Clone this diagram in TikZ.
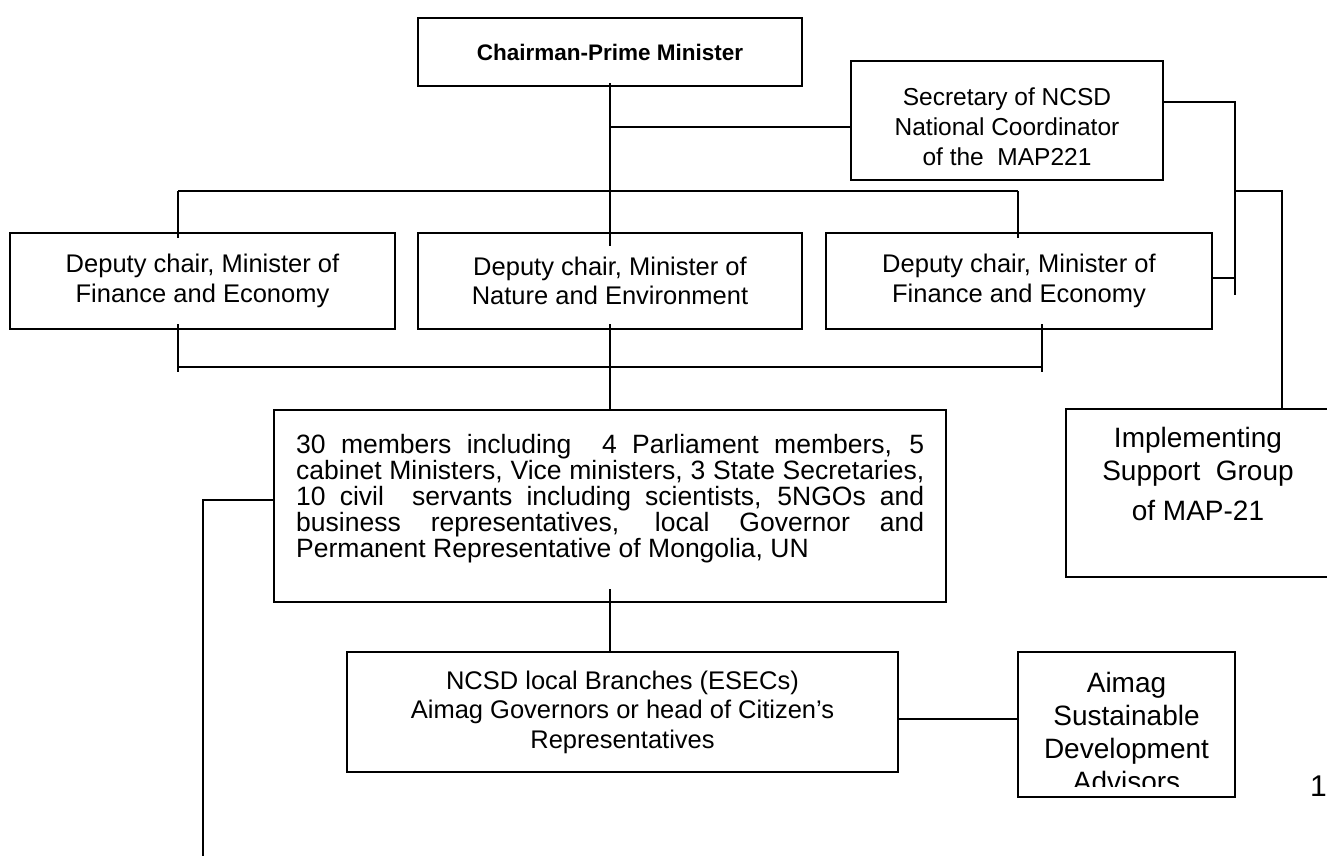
\documentclass[tikz,border=0pt]{standalone}
\usepackage{fontspec}
\setmainfont{Liberation Sans}
\usetikzlibrary{positioning}
\tolerance=9999
\hyphenpenalty=10000
\begin{document}
\begin{tikzpicture}[
    x=1pt, y=-1pt,
    orgbox/.style={
      draw=black,
      line width=2.4pt,
      inner sep=0pt,
      outer sep=0pt,
      align=center,
      font=\fontsize{25.5}{29.5}\selectfont
    },
    link/.style={
      draw=black,
      line width=2pt
    },
    bigtext/.style={
      inner sep=0pt,
      align=center,
      font=\fontsize{28}{33}\selectfont
    }
  ]

    \useasboundingbox (0,0) rectangle (1327,855);
    \clip (0,0) rectangle (1327,855);

    % Chairman and secretary
    \node[orgbox, anchor=north west, minimum width=384pt, minimum height=68pt] (chair) at (418,18)
      {\fontsize{22.5}{27}\selectfont\bfseries Chairman-Prime Minister};
    \node[orgbox, anchor=north west, minimum width=312pt, minimum height=119pt] (secr) at (851,61) {};
    \node[inner sep=0pt, align=center, font=\fontsize{24.5}{30}\selectfont] (secrtext)
      at ([yshift=-6pt]secr.center)
      {Secretary of NCSD\\National Coordinator\\of the\ \ MAP221};

    % Deputy chairs
    \node[orgbox, anchor=north west, minimum width=385pt, minimum height=96pt] (finl) at (10,233)
      {Deputy chair, Minister of\\Finance and Economy};
    \node[orgbox, minimum width=384pt, minimum height=96pt, right=23pt of finl] (natr)
      {Deputy chair, Minister of\\Nature and Environment};
    \node[orgbox, minimum width=386pt, minimum height=96pt, right=24pt of natr] (finr)
      {Deputy chair, Minister of\\Finance and Economy};

    % Council members
    \node[orgbox, anchor=north west, minimum width=672pt, minimum height=192pt] (members) at (274,410) {};
    \node[anchor=north west, inner sep=0pt, text width=628pt, align=justify,
      font=\fontsize{26.5}{26}\selectfont] (membtext) at (296,434)
      {30 members including\ \ 4 Parliament members, 5\linebreak
       cabinet Ministers, Vice ministers, 3 State Secretaries,\linebreak
       10 civil\ \ servants including scientists, 5NGOs and\linebreak
       business representatives, local Governor and\linebreak
       Permanent Representative of Mongolia, UN};

    % Support group
    \node[orgbox, anchor=north west, minimum width=264pt, minimum height=168pt] (isg) at (1066,409) {};
    \node[bigtext, anchor=north] (isgtext) at ([yshift=-18pt]isg.north)
      {Implementing\\Support\ \ Group\\[7pt]of MAP-21};

    % Local branches
    \node[orgbox, anchor=north west, minimum width=551pt, minimum height=120pt] (esec) at (347,652)
      {NCSD local Branches (ESECs)\\Aimag Governors or head of Citizen’s\\Representatives};
    \node[orgbox, minimum width=217pt, minimum height=145pt,
      right=120pt of esec.north east, anchor=north west] (aimag) {};
    \begin{scope}
      \clip (aimag.north west) rectangle ([yshift=11pt]aimag.south east);
      \node[bigtext, anchor=north] (aimtext) at ([yshift=-20pt]aimag.north)
        {Aimag\\Sustainable\\Development\\Advisors};
    \end{scope}

    \node[anchor=base west, inner sep=0pt, font=\fontsize{30}{30}\selectfont] (pagenum) at (1310,796) {1};

    % Connecting lines
    \coordinate (tl) at (178,191);
    \coordinate (tr) at (1018,191);
    \draw[link, shorten <=-3pt, shorten >=-13pt] (chair.south) -- (natr.north);
    \draw[link] (tl) -- (tr);
    \draw[link, shorten >=-5pt] (tl) -- (tl |- finl.north);
    \draw[link, shorten >=-5pt] (tr) -- (tr |- finr.north);

    \coordinate (secin) at ([yshift=-6.5pt]secr.west);
    \draw[link] (chair.south |- secin) -- (secin);

    \coordinate (secout) at ([yshift=18.5pt]secr.east);
    \coordinate (side) at (1235,295);
    \coordinate (tick) at (1235,278);
    \coordinate (isgtop) at (1282,191);
    \draw[link] (secout) -| (side);
    \draw[link] (finr.east |- tick) -- (tick);
    \draw[link] (side |- isgtop) -- (isgtop) -- (isgtop |- isg.north);

    \coordinate (bl) at (178,367);
    \coordinate (br) at (1042,367);
    \draw[link] (bl) -- (br);
    \draw[link, shorten <=-5pt, shorten >=-5pt] (bl |- finl.south) -- (bl);
    \draw[link, shorten <=-5pt, shorten >=-5pt] (br |- finr.south) -- (br);
    \draw[link, shorten <=-5pt] (natr.south) -- (members.north);

    \draw[link, shorten <=-13pt] (members.south) -- (members.south |- esec.north);

    \coordinate (mleft) at (203,500);
    \coordinate (leftend) at (203,860);
    \draw[link] (members.west |- mleft) -- (mleft) -- (leftend);

    \coordinate (esecout) at (960,719);
    \draw[link] (esec.east |- esecout) -- (aimag.west |- esecout);

  \end{tikzpicture}
\end{document}
